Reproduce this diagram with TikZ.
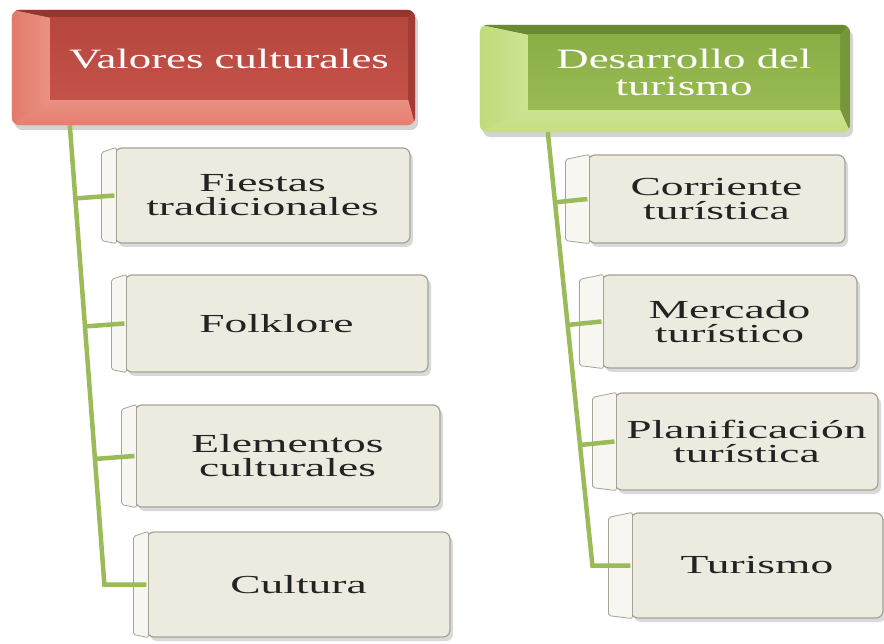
\documentclass[tikz,border=0pt]{standalone}
\usepackage{fontspec}
\newfontfamily\hdrfont[FakeStretch=1.6]{Liberation Serif}
\newfontfamily\boxfont[FakeStretch=1.75]{Liberation Serif}
\usetikzlibrary{calc,shadows,backgrounds}
\definecolor{redface}{RGB}{196,82,72}
\definecolor{redfacetop}{RGB}{182,70,62}
\definecolor{redlight}{RGB}{230,126,110}
\definecolor{reddark}{RGB}{150,52,45}
\definecolor{grnface}{RGB}{152,188,82}
\definecolor{grnfacetop}{RGB}{138,174,70}
\definecolor{grnlight}{RGB}{196,222,128}
\definecolor{grndark}{RGB}{105,138,48}
\definecolor{boxfill}{RGB}{237,235,224}
\definecolor{boxedge}{RGB}{165,163,152}
\definecolor{stripfill}{RGB}{247,246,240}
\definecolor{linegreen}{RGB}{155,187,89}
\definecolor{txt}{RGB}{35,35,35}
\tikzset{
  itembox/.style={draw=boxedge, line width=1.2pt, fill=boxfill, rounded corners=7pt,
    drop shadow={shadow xshift=3pt, shadow yshift=-4pt, opacity=0.3},
    align=center, text=txt, inner sep=0pt,
    font=\boxfont\fontsize{26}{24}\selectfont},
  hdrface/.style={align=center, text=white, inner sep=0pt,
    font=\hdrfont\fontsize{28}{27}\selectfont},
  branch/.style={draw=linegreen, line width=4.5pt},
  stripL/.style={fill=stripfill, draw=boxedge, line width=0.8pt},
}
\begin{document}
\begin{tikzpicture}[x=1pt,y=-1pt]
\useasboundingbox (0,0) rectangle (884,644);

% ---------- headers ----------
\node[hdrface, minimum width=358pt, minimum height=82pt,
      top color=redfacetop, bottom color=redface] (h1) at (229,59) {Valores culturales};
\node[hdrface, minimum width=312pt, minimum height=75pt,
      top color=grnfacetop, bottom color=grnface] (h2) at (684,72.5) {Desarrollo del\\turismo};

\begin{scope}[on background layer]
  % left header bevel
  \coordinate (aNW) at ($(h1.north west)+(-38,-8)$);
  \coordinate (aSE) at ($(h1.south east)+(7,25)$);
  \coordinate (aNE) at (aSE |- aNW);
  \coordinate (aSW) at (aNW |- aSE);
  \fill[redlight, rounded corners=8pt, drop shadow={shadow xshift=3pt, shadow yshift=-5pt, opacity=0.35}] (aNW) rectangle (aSE);
  \begin{scope}
    \clip[rounded corners=8pt] (aNW) rectangle (aSE);
    \fill[reddark] (aNW) -- (aNE) -- (h1.north east) -- (h1.north west) -- cycle;
    \fill[reddark!75!redface] (aNE) -- (aSE) -- (h1.south east) -- (h1.north east) -- cycle;
    \shade[left color=redlight!90!redface, right color=redlight!85!white] (aNW) -- (h1.north west) -- (h1.south west) -- (aSW) -- cycle;
    \shade[top color=redlight!85!white, bottom color=redlight] (aSW) -- (h1.south west) -- (h1.south east) -- (aSE) -- cycle;
  \end{scope}
  % right header bevel
  \coordinate (bNW) at ($(h2.north west)+(-48,-10)$);
  \coordinate (bSE) at ($(h2.south east)+(10,22)$);
  \coordinate (bNE) at (bSE |- bNW);
  \coordinate (bSW) at (bNW |- bSE);
  \fill[grnlight, rounded corners=8pt, drop shadow={shadow xshift=3pt, shadow yshift=-5pt, opacity=0.35}] (bNW) rectangle (bSE);
  \begin{scope}
    \clip[rounded corners=8pt] (bNW) rectangle (bSE);
    \fill[grndark] (bNW) -- (bNE) -- (h2.north east) -- (h2.north west) -- cycle;
    \fill[grndark!75!grnface] (bNE) -- (bSE) -- (h2.south east) -- (h2.north east) -- cycle;
    \shade[left color=grnlight!90!grnface, right color=grnlight!85!white] (bNW) -- (h2.north west) -- (h2.south west) -- (bSW) -- cycle;
    \shade[top color=grnlight!85!white, bottom color=grnlight] (bSW) -- (h2.south west) -- (h2.south east) -- (bSE) -- cycle;
  \end{scope}
\end{scope}

% ---------- item boxes ----------
\node[itembox, minimum width=295pt, minimum height=95pt]  (b1) at (262.5,195.5) {Fiestas\\tradicionales};
\node[itembox, minimum width=303pt, minimum height=97pt]  (b2) at (276.5,323.5) {Folklore};
\node[itembox, minimum width=305pt, minimum height=102pt] (b3) at (287.5,456)   {Elementos\\culturales};
\node[itembox, minimum width=303pt, minimum height=105pt] (b4) at (298.5,584.5) {Cultura};

\node[itembox, minimum width=257pt, minimum height=88pt]  (c1) at (716.5,199)   {Corriente\\turística};
\node[itembox, minimum width=255pt, minimum height=93pt]  (c2) at (729.5,321.5) {Mercado\\turístico};
\node[itembox, minimum width=263pt, minimum height=97pt]  (c3) at (746.5,441.5) {Planificación\\turística};
\node[itembox, minimum width=252pt, minimum height=105pt] (c4) at (757,565.5)   {Turismo};

% bevel strips on the left of the boxes
\foreach \b in {b1,b2,b3,b4}{
  \draw[stripL, rounded corners=2pt] ($(\b.north west)+(-13,5)$) -- ($(\b.north west)+(2,0)$) -- ($(\b.south west)+(2,0)$) -- ($(\b.south west)+(-13,-3)$) -- cycle;
}
\foreach \b in {c1,c2,c3,c4}{
  \draw[stripL, rounded corners=2pt] ($(\b.north west)+(-22,5)$) -- ($(\b.north west)+(2,0)$) -- ($(\b.south west)+(2,0)$) -- ($(\b.south west)+(-22,-3)$) -- cycle;
}

% ---------- connectors ----------
\coordinate (ls) at ($(h1.south west)+(20,25)$);
\coordinate (le) at ($(b4.west)+(-42,0)$);
\coordinate (rs) at ($(h2.south west)+(20,22)$);
\coordinate (re) at ($(c4.west)+(-38,0)$);

\draw[branch] (ls) -- (le) -- (b4.west);
\foreach \b in {b1,b2,b3}{
  \draw[branch] ($(ls)!(\b.west)!(le)$) -- (\b.west);
}
\draw[branch] (rs) -- (re) -- (c4.west);
\foreach \b in {c1,c2,c3}{
  \draw[branch] ($(rs)!(\b.west)!(re)$) -- (\b.west);
}
\end{tikzpicture}
\end{document}
